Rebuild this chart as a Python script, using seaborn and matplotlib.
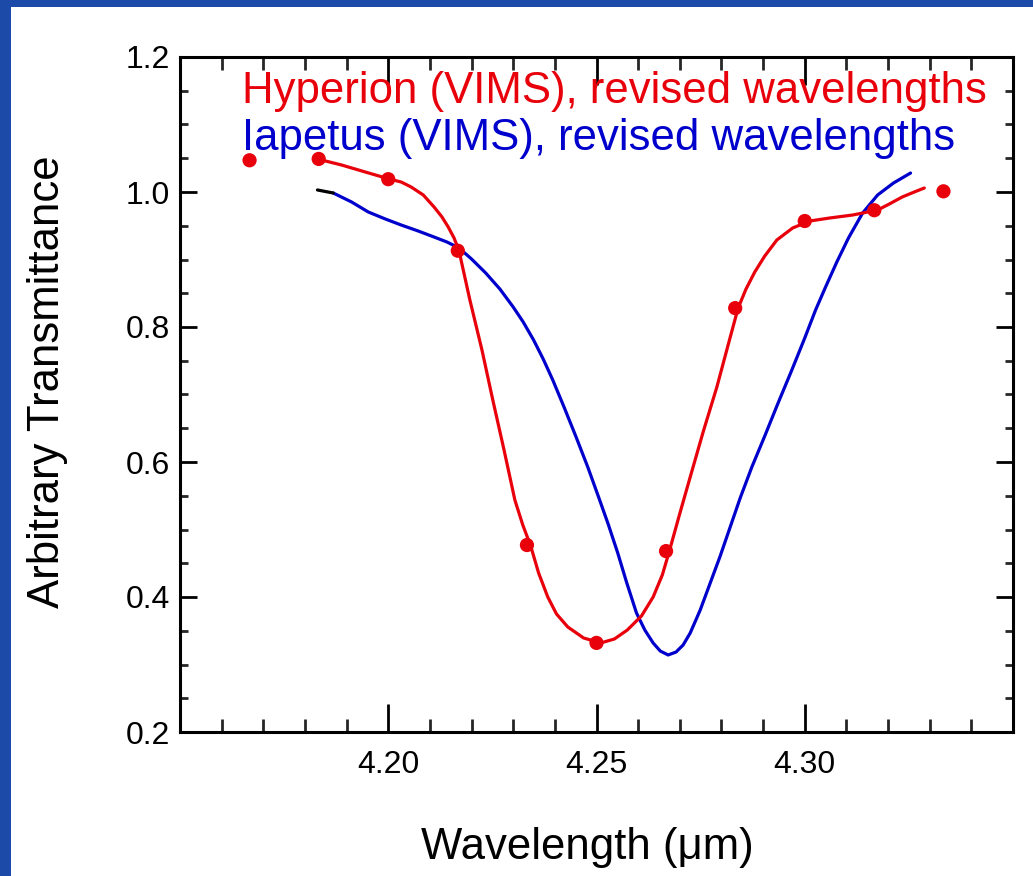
import matplotlib
matplotlib.use("Agg")
import matplotlib.pyplot as plt
import seaborn as sns
import pandas as pd
from matplotlib.patches import Rectangle
from matplotlib.ticker import MultipleLocator

# ---- data ----
hyp_pts_wl = [4.1667, 4.1833, 4.2000, 4.2167, 4.2333, 4.2500, 4.2667, 4.2833, 4.3000, 4.3167, 4.3333]
hyp_pts_tr = [1.047, 1.049, 1.019, 0.913, 0.477, 0.332, 0.468, 0.828, 0.957, 0.973, 1.001]

hyp_curve_wl = [4.1830, 4.1888, 4.1945, 4.2002, 4.2031, 4.2055, 4.2084, 4.2110, 4.2129,
                4.2144, 4.2158, 4.2170, 4.2196, 4.2225, 4.2251, 4.2278, 4.2304, 4.2323,
                4.2342, 4.2361, 4.2383, 4.2404, 4.2431, 4.2469, 4.2510, 4.2543, 4.2574,
                4.2608, 4.2636, 4.2658, 4.2675, 4.2699, 4.2725, 4.2756, 4.2789, 4.2816,
                4.2840, 4.2859, 4.2880, 4.2904, 4.2933, 4.2971, 4.3012, 4.3060, 4.3115,
                4.3175, 4.3203, 4.3234, 4.3263, 4.3287]
hyp_curve_tr = [1.0489, 1.0400, 1.0296, 1.0193, 1.0148, 1.0074, 0.9956, 0.9778, 0.9630,
                0.9481, 0.9319, 0.9126, 0.8400, 0.7659, 0.6919, 0.6178, 0.5437, 0.5067,
                0.4756, 0.4356, 0.4000, 0.3748, 0.3556, 0.3393, 0.3319, 0.3378, 0.3511,
                0.3719, 0.4000, 0.4326, 0.4681, 0.5215, 0.5778, 0.6444, 0.7111, 0.7733,
                0.8281, 0.8563, 0.8815, 0.9052, 0.9289, 0.9467, 0.9570, 0.9615, 0.9659,
                0.9733, 0.9822, 0.9926, 1.0000, 1.0059]

iap_curve_wl = [4.1868, 4.1912, 4.1952, 4.1993, 4.2031, 4.2072, 4.2110, 4.2141, 4.2170,
                4.2200, 4.2234, 4.2268, 4.2300, 4.2324, 4.2349, 4.2372, 4.2395, 4.2423,
                4.2451, 4.2479, 4.2505, 4.2528, 4.2551, 4.2572, 4.2596, 4.2616, 4.2636,
                4.2653, 4.2672, 4.2691, 4.2708, 4.2725, 4.2749, 4.2773, 4.2797, 4.2821,
                4.2845, 4.2873, 4.2904, 4.2935, 4.2969, 4.3000, 4.3026, 4.3050, 4.3077,
                4.3105, 4.3139, 4.3175, 4.3213, 4.3254]
iap_curve_tr = [0.9985, 0.9852, 0.9704, 0.9600, 0.9511, 0.9422, 0.9333, 0.9259, 0.9170,
                0.9007, 0.8800, 0.8563, 0.8296, 0.8074, 0.7807, 0.7526, 0.7215, 0.6800,
                0.6370, 0.5926, 0.5481, 0.5081, 0.4652, 0.4222, 0.3763, 0.3511, 0.3319,
                0.3200, 0.3141, 0.3185, 0.3289, 0.3467, 0.3807, 0.4207, 0.4607, 0.5037,
                0.5467, 0.5926, 0.6385, 0.6859, 0.7363, 0.7837, 0.8252, 0.8593, 0.8963,
                0.9319, 0.9689, 0.9956, 1.0133, 1.0281]

tip_wl = [4.1830, 4.1868]
tip_tr = [1.0030, 0.9985]

hyp_label = "Hyperion (VIMS), revised wavelengths"
iap_label = "Iapetus (VIMS), revised wavelengths"
x_label = "Wavelength (\u03bcm)"
y_label = "Arbitrary Transmittance"
x_ticks = [4.20, 4.25, 4.30]
x_ticklabels = ["4.20", "4.25", "4.30"]
y_ticks = [0.2, 0.4, 0.6, 0.8, 1.0, 1.2]
y_ticklabels = ["0.2", "0.4", "0.6", "0.8", "1.0", "1.2"]

RED = "#e8000b"
BLUE = "#0000cc"
FRAME = "#1c4aa8"

sns.set_style("ticks")
plt.rcParams["font.family"] = ["Liberation Sans", "DejaVu Sans"]

W, H = 1033, 876
fig = plt.figure(figsize=(W / 100, H / 100), dpi=100)
fig.patch.set_facecolor(FRAME)
fig.patches.append(Rectangle((11 / W, 0), 1 - 11 / W, 1 - 7 / H, transform=fig.transFigure,
                             facecolor="white", edgecolor="none", zorder=-10))

ax = fig.add_axes([180 / W, 1 - 732 / H, (1013 - 180) / W, (732 - 57) / H])
ax.set_facecolor("white")

hyp_curve = pd.DataFrame({"wl": hyp_curve_wl, "tr": hyp_curve_tr})
iap_curve = pd.DataFrame({"wl": iap_curve_wl, "tr": iap_curve_tr})
hyp_pts = pd.DataFrame({"wl": hyp_pts_wl, "tr": hyp_pts_tr})

line_kw = dict(lw=2.3, solid_joinstyle="round", solid_capstyle="round")
sns.lineplot(data=iap_curve, x="wl", y="tr", sort=False, color=BLUE, ax=ax, **line_kw)
sns.lineplot(x=tip_wl, y=tip_tr, sort=False, color="black", ax=ax, **line_kw)
sns.lineplot(data=hyp_curve, x="wl", y="tr", sort=False, color=RED, ax=ax, **line_kw)
sns.scatterplot(data=hyp_pts, x="wl", y="tr", color=RED, s=105, edgecolor="none", zorder=5, ax=ax)

ax.set_xlim(4.15, 4.35)
ax.set_ylim(0.2, 1.2)
ax.xaxis.set_minor_locator(MultipleLocator(0.01))
ax.yaxis.set_minor_locator(MultipleLocator(0.05))
ax.set_xticks(x_ticks)
ax.set_xticklabels(x_ticklabels)
ax.set_yticks(y_ticks)
ax.set_yticklabels(y_ticklabels)

for s in ax.spines.values():
    s.set_visible(True)
    s.set_linewidth(2.2)
    s.set_color("black")

ax.tick_params(axis="x", which="major", direction="in", length=20, width=2, top=True, bottom=True,
               labelsize=23, pad=13, colors="black")
ax.tick_params(axis="x", which="minor", direction="in", length=9.5, width=2, top=True, bottom=True)
ax.tick_params(axis="y", which="major", direction="in", length=12.5, width=2, left=True, right=True,
               labelsize=23, pad=7, colors="black")
ax.tick_params(axis="y", which="minor", direction="in", length=6, width=2, left=True, right=True)

ax.set_xlabel(x_label, fontsize=31.5, va="center", color="black")
ax.xaxis.set_label_coords((587 - 180) / 833, (732 - 847) / 675)
ax.set_ylabel(y_label, fontsize=31.5, va="center", color="black")
ax.yaxis.set_label_coords((48 - 180) / 833, (732 - 382) / 675)

ax.text(0.0744, 0.932, hyp_label, transform=ax.transAxes, color=RED, fontsize=31.5, va="baseline", ha="left")
ax.text(0.0744, 0.862, iap_label, transform=ax.transAxes, color=BLUE, fontsize=31.5, va="baseline", ha="left")

fig.savefig("out.png", dpi=100, facecolor=fig.get_facecolor())
